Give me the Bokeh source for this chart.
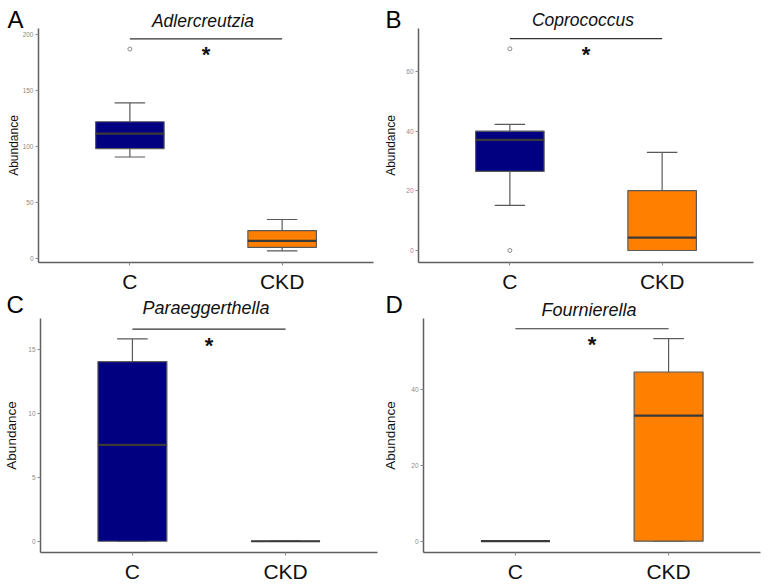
from bokeh.plotting import figure
from bokeh.models import ColumnDataSource, Range1d, FixedTicker, LinearAxis
from bokeh.core.properties import value
from bokeh.embed import file_html
from bokeh.resources import INLINE

# ---------------- data ----------------
groups = ["C", "CKD"]
box_colors = ["#000080", "#FF7F00"]
panel_letters = ["A", "B", "C", "D"]
genera = ["Adlercreutzia", "Coprococcus", "Paraeggerthella", "Fournierella"]

# Adlercreutzia  (per group: C, CKD)
adler_lower = [90.5, 6.6]
adler_q1 = [98.0, 9.6]
adler_median = [111.3, 15.5]
adler_q3 = [122.0, 24.7]
adler_upper = [138.8, 34.6]
adler_out_group = ["C"]
adler_out_value = [187.0]

# Coprococcus
copro_lower = [15.1, 0.0]
copro_q1 = [26.5, 0.0]
copro_median = [37.1, 4.3]
copro_q3 = [40.0, 20.1]
copro_upper = [42.3, 32.9]
copro_out_group = ["C", "C"]
copro_out_value = [67.6, 0.0]

# Paraeggerthella
para_lower = [0.0, 0.0]
para_q1 = [0.0, 0.0]
para_median = [7.54, 0.0]
para_q3 = [14.06, 0.0]
para_upper = [15.84, 0.0]
para_out_group = []
para_out_value = []

# Fournierella
fourn_lower = [0.0, 0.0]
fourn_q1 = [0.0, 0.0]
fourn_median = [0.0, 33.1]
fourn_q3 = [0.0, 44.6]
fourn_upper = [0.0, 53.4]
fourn_out_group = []
fourn_out_value = []

# significance bracket level per panel
sig_level = [196.0, 71.0, 16.6, 56.0]
sig_text = ["*", "*", "*", "*"]

# y tick values per panel
yticks_A = [0, 50, 100, 150, 200]
yticks_B = [0, 20, 40, 60]
yticks_C = [0, 5, 10, 15]
yticks_D = [0, 20, 40]

# ---------------- layout / style ----------------
FONT = "Liberation Sans"
XR = (0.4, 2.6)
MID = 0.35  # em distance from a "middle" text anchor down to the baseline
W, H = 769, 585

p = figure(width=W, height=H, x_range=Range1d(0, W), y_range=Range1d(H, 0),
           x_axis_type=None, y_axis_type=None, output_backend="svg",
           toolbar_location=None, min_border_left=0, min_border_right=0,
           min_border_top=0, min_border_bottom=0)
p.outline_line_color = None
p.background_fill_color = "white"
p.border_fill_color = "white"

panels = [
    dict(key="A", stats=(adler_lower, adler_q1, adler_median, adler_q3, adler_upper),
         out=(adler_out_group, adler_out_value), yticks=yticks_A, yr=(-3.84, 205.36),
         box=(38, 28, 373, 262), ylab=(12, -1), letter=(7, 27), title=(27, 17.5)),
    dict(key="B", stats=(copro_lower, copro_q1, copro_median, copro_q3, copro_upper),
         out=(copro_out_group, copro_out_value), yticks=yticks_B, yr=(-4.02, 74.4),
         box=(418, 28, 753, 262), ylab=(12, 5), letter=(385, 27), title=(26, 17.5)),
    dict(key="C", stats=(para_lower, para_q1, para_median, para_q3, para_upper),
         out=(para_out_group, para_out_value), yticks=yticks_C, yr=(-0.88, 17.43),
         box=(40, 318, 377, 552), ylab=(13.5, 6), letter=(6, 312), title=(314, 18)),
    dict(key="D", stats=(fourn_lower, fourn_q1, fourn_median, fourn_q3, fourn_upper),
         out=(fourn_out_group, fourn_out_value), yticks=yticks_D, yr=(-2.98, 58.7),
         box=(423, 318, 760, 552), ylab=(13.5, 10), letter=(385, 312), title=(316, 18)),
]

# per-panel ranges spanning the whole canvas, so that each panel's frame box maps onto its data
xranges, yranges = {}, {}
for cfg in panels:
    L, T, R, B = cfg["box"]
    x0, x1 = XR
    y0, y1 = cfg["yr"]
    sx = (x1 - x0) / (R - L)
    sy = (y1 - y0) / (B - T)
    cfg["sy"] = sy
    xranges["x" + cfg["key"]] = Range1d(x0 - L * sx, x0 + (W - L) * sx)
    yranges["y" + cfg["key"]] = Range1d(y0 + (B - H) * sy, y0 + B * sy)
p.extra_x_ranges = xranges
p.extra_y_ranges = yranges

xs = [i + 1 for i in range(len(groups))]
BW, CW = 0.45, 0.2
WC = "#5a5a5a"

for k, cfg in enumerate(panels):
    xn, yn = "x" + cfg["key"], "y" + cfg["key"]
    rn = dict(x_range_name=xn, y_range_name=yn)
    lower, q1, med, q3, upper = cfg["stats"]
    src = ColumnDataSource(dict(
        x=xs, lo=lower, q1=q1, med=med, q3=q3, hi=upper, color=box_colors,
        cl=[x - CW / 2 for x in xs], cr=[x + CW / 2 for x in xs],
        bl=[x - BW / 2 for x in xs], br=[x + BW / 2 for x in xs]))
    p.segment(x0="x", y0="q3", x1="x", y1="hi", source=src, line_color=WC, line_width=1.2, **rn)
    p.segment(x0="x", y0="lo", x1="x", y1="q1", source=src, line_color=WC, line_width=1.2, **rn)
    p.segment(x0="cl", y0="hi", x1="cr", y1="hi", source=src, line_color=WC, line_width=1.2, **rn)
    p.segment(x0="cl", y0="lo", x1="cr", y1="lo", source=src, line_color=WC, line_width=1.2, **rn)
    p.vbar(x="x", width=BW, bottom="q1", top="q3", source=src, fill_color="color",
           line_color="#5a5a5a", line_width=1.2, **rn)
    p.segment(x0="bl", y0="med", x1="br", y1="med", source=src, line_color="#3a3a3a",
              line_width=2.2, **rn)

    og, ov = cfg["out"]
    if og:
        p.scatter(x=[groups.index(g) + 1 for g in og], y=ov, marker="circle", size=4,
                  fill_color=None, line_color="#8a8a8a", line_width=1, **rn)

    # significance bracket and star
    sig = sig_level[k]
    p.segment(x0=[1], y0=[sig], x1=[2], y1=[sig], line_color="#333333", line_width=1.2, **rn)
    p.text(x=[1.5], y=[sig - 16 * cfg["sy"]], text=[sig_text[k]], text_align="center",
           text_baseline="middle", text_font_size="22px", text_font_style="bold",
           text_color="#111111", text_font=value(FONT), **rn)

    # axes, drawn at the panel's frame edges
    y0, y1 = cfg["yr"]
    ylab_size, ylab_standoff = cfg["ylab"]
    yax = LinearAxis(x_range_name=xn, y_range_name=yn, fixed_location=XR[0], bounds=(y0, y1),
                     ticker=FixedTicker(ticks=cfg["yticks"]), axis_label="Abundance")
    xax = LinearAxis(x_range_name=xn, y_range_name=yn, fixed_location=y0, bounds=XR,
                     ticker=FixedTicker(ticks=xs),
                     major_label_overrides={x: g for x, g in zip(xs, groups)})
    for ax in (xax, yax):
        ax.axis_line_color = "#5f5f5f"
        ax.axis_line_width = 1.5
        ax.major_tick_line_color = "#8a8a8a"
        ax.major_tick_out = 3
        ax.major_tick_in = 0
        ax.minor_tick_line_color = None
        ax.major_label_text_font = FONT
    yax.major_label_text_font_size = "6.5px"
    yax.major_label_text_color = "#8a8a8a"
    yax.major_label_standoff = 2
    yax.axis_label_text_font = FONT
    yax.axis_label_text_font_style = "normal"
    yax.axis_label_text_font_size = f"{ylab_size}px"
    yax.axis_label_text_color = "#111111"
    yax.axis_label_standoff = ylab_standoff
    xax.major_label_text_font_size = "21px"
    xax.major_label_text_color = "#111111"
    xax.major_label_standoff = 4
    p.add_layout(yax, "left")
    p.add_layout(xax, "below")

    # panel letter (page pixels) and genus title (centred over the panel)
    lx, lb = cfg["letter"]
    p.text(x=[lx], y=[lb - MID * 24], text=[panel_letters[k]], text_align="left",
           text_baseline="middle", text_font=value(FONT), text_font_size="24px",
           text_color="#000000")
    tb, ts = cfg["title"]
    p.text(x=[1.5], y=[tb - MID * ts], text=[genera[k]], text_align="center",
           text_baseline="middle", text_font=value(FONT), text_font_style="italic",
           text_font_size=f"{ts}px", text_color="#111111", x_offset=-3, x_range_name=xn)

open("out.html", "w").write(file_html(p, INLINE))
